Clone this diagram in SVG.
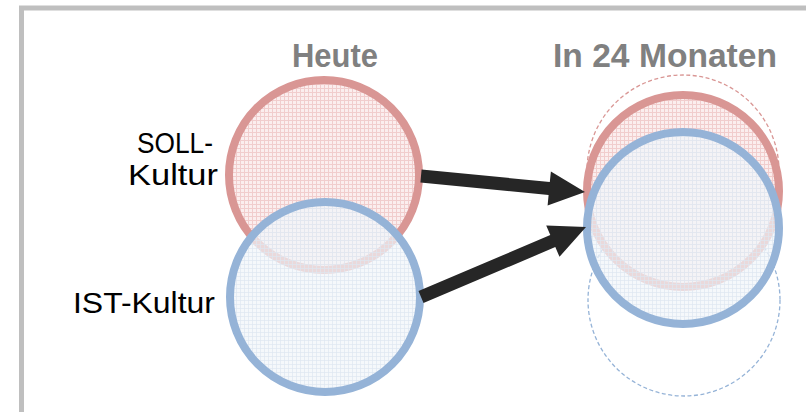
<svg xmlns="http://www.w3.org/2000/svg" width="806" height="412" viewBox="0 0 806 412">
  <style>
    .title { font-family: "Liberation Sans", Arial, sans-serif; font-weight: bold; font-size: 33px; fill: #808080; }
    .label { font-family: "Liberation Sans", Arial, sans-serif; font-size: 29px; fill: #000000; }
    .soll { stroke: #d99694; stroke-width: 8; fill: url(#hatchRed); }
    .ist { stroke: #95b3d7; stroke-width: 8; fill: url(#hatchBlue); }
    .ghost-soll { fill: none; stroke: #d99694; stroke-width: 1.3; stroke-dasharray: 4 2.5; }
    .ghost-ist { fill: none; stroke: #95b3d7; stroke-width: 1.3; stroke-dasharray: 4 2.5; }
    .arrow { fill: #262626; }
  </style>
  <defs>
    <pattern id="hatchRed" width="4" height="4" patternUnits="userSpaceOnUse">
      <rect width="4" height="4" fill="#fbeeee"/>
      <path d="M0 0.5H4M0.5 0V4" stroke="#f1cdcd" stroke-width="1"/>
    </pattern>
    <pattern id="hatchBlue" width="4" height="4" patternUnits="userSpaceOnUse">
      <rect width="4" height="4" fill="#f1f5fa" fill-opacity="0.7"/>
      <path d="M0 0.5H4M0.5 0V4" stroke="#dfe7f2" stroke-width="1" stroke-opacity="0.7"/>
    </pattern>
  </defs>

  <rect x="0" y="0" width="806" height="412" fill="#ffffff"/>
  <!-- outer frame, open to the right and bottom -->
  <rect x="21.5" y="8" width="820" height="420" fill="none" stroke="#bfbfbf" stroke-width="5"/>

  <!-- column titles -->
  <text class="title" x="335" y="67" text-anchor="middle" textLength="86" lengthAdjust="spacingAndGlyphs">Heute</text>
  <text class="title" x="665" y="67" text-anchor="middle" textLength="224" lengthAdjust="spacingAndGlyphs">In 24 Monaten</text>

  <!-- row labels -->
  <g id="label-soll">
    <text class="label" x="213" y="153" text-anchor="end" textLength="76" lengthAdjust="spacingAndGlyphs">SOLL-</text>
    <text class="label" x="218" y="185" text-anchor="end" textLength="90" lengthAdjust="spacingAndGlyphs">Kultur</text>
  </g>
  <g id="label-ist">
    <text class="label" x="215" y="313" text-anchor="end" textLength="142" lengthAdjust="spacingAndGlyphs">IST-Kultur</text>
  </g>

  <!-- today -->
  <g id="soll-heute">
    <circle class="soll" cx="324" cy="175" r="95"/>
  </g>
  <g id="ist-heute">
    <circle class="ist" cx="325" cy="297" r="95"/>
  </g>

  <!-- in 24 months -->
  <g id="soll-ziel-alt">
    <circle class="ghost-soll" cx="683" cy="171" r="96"/>
  </g>
  <g id="ist-ziel-alt">
    <circle class="ghost-ist" cx="684" cy="300" r="96"/>
  </g>
  <g id="soll-ziel">
    <circle class="soll" cx="683" cy="191" r="96"/>
  </g>
  <g id="ist-ziel">
    <circle class="ist" cx="683" cy="228" r="96"/>
  </g>

  <!-- connectors -->
  <g id="connectors">
    <polygon class="arrow" points="421.6,169.5 549.8,182 550.9,171.6 585,192 547.6,205.4 548.6,195 420.4,182.5"/>
    <polygon class="arrow" points="418.5,291 550.3,235.1 546.2,225.4 586,227 559.5,256.8 555.3,247.1 423.5,303"/>
  </g>
</svg>
